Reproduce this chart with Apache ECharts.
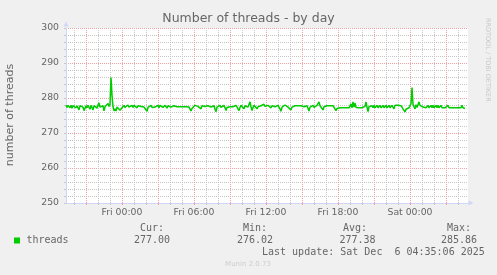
<!DOCTYPE html>
<html><head><meta charset="utf-8">
<script src="https://cdn.jsdelivr.net/npm/echarts@6/dist/echarts.min.js"></script>
<style>html,body{margin:0;padding:0;background:#f0f0f0;}#c{width:497px;height:275px;}</style>
</head><body><div id="c"></div>
<script>
// 5-minute samples starting Thu 19:20, ending Sat 04:35
const threads = [
277.9,277.3,277.9,277.6,277.2,277.9,277.1,277.8,277.4,277.9,277.2,277.8,277.5,276.6,277.8,277.3,277.9,277.4,276.4,276.9,
277.8,277.2,277.9,277.5,276.8,277.9,277.3,276.6,277.8,277.4,277.9,277.1,278.0,278.6,277.4,277.9,277.2,277.8,276.3,277.5,
277.9,277.0,278.4,277.6,278.2,285.86,280.8,277.5,276.3,276.9,276.3,277.4,277.9,277.3,276.5,276.4,277.2,276.8,277.9,277.3,
277.8,277.5,278.0,277.4,277.9,277.6,277.9,277.3,277.9,277.5,277.9,277.2,277.8,277.4,277.9,277.6,277.2,277.9,277.4,277.8,
276.9,276.2,277.3,277.8,277.5,277.9,277.3,276.8,277.8,277.4,277.9,277.5,277.9,277.2,277.9,277.5,277.8,277.3,276.8,277.9,
277.5,277.1,277.8,277.6,277.9,277.4,277.8,277.5,277.8,277.3,277.8,277.5,277.5,277.5,277.5,277.5,277.5,277.5,277.5,277.5,
277.5,277.5,277.5,277.4,276.9,276.3,277.0,276.5,277.2,277.9,277.4,278.0,277.6,277.9,277.3,276.9,277.8,277.4,277.9,277.6,
277.9,277.3,277.8,277.5,277.9,277.4,277.9,277.2,277.8,276.8,276.1,277.4,277.9,277.5,277.9,277.3,277.8,277.5,277.9,277.2,
276.4,277.3,277.8,277.5,277.5,277.5,277.6,277.5,277.8,277.5,277.9,277.4,277.8,276.4,277.3,277.9,277.4,277.8,276.9,277.8,
277.5,277.9,277.4,277.9,278.9,277.5,276.4,277.3,277.9,277.5,277.9,276.9,277.5,277.9,277.4,277.8,277.5,277.9,278.2,277.6,
277.9,277.3,277.9,277.5,277.9,277.2,277.8,277.4,277.9,277.5,277.8,277.3,277.9,277.5,276.9,276.2,277.4,277.9,277.5,278.0,
277.6,277.9,277.4,277.8,277.3,276.6,277.4,277.8,277.5,277.8,277.8,277.8,277.8,277.8,277.9,277.8,278.3,277.8,277.5,277.9,
277.4,277.8,277.5,276.3,277.4,277.9,277.5,277.9,277.3,277.8,277.4,277.9,277.6,278.9,277.8,277.4,277.9,276.6,277.5,277.9,
277.8,277.8,277.8,277.8,277.8,277.8,277.9,277.8,277.9,277.6,276.4,277.0,277.2,277.2,277.2,277.2,277.2,277.2,277.2,277.2,
277.2,277.2,277.2,277.2,277.3,278.3,277.2,278.9,277.4,278.5,277.3,277.8,277.2,277.2,277.5,277.5,277.2,277.2,277.4,277.6,
278.9,277.4,276.1,277.5,277.9,277.3,277.8,277.2,277.9,277.2,277.2,277.9,277.2,277.2,277.9,277.2,277.2,277.9,277.2,277.2,
277.9,277.2,277.2,277.9,277.2,277.2,277.9,277.4,276.9,277.9,277.9,277.9,277.9,277.9,277.9,277.8,277.4,276.9,277.3,276.02,
276.8,277.2,277.2,277.2,277.3,278.4,283.0,278.2,277.5,276.9,278.1,277.3,277.8,278.9,277.9,277.5,277.9,277.4,277.2,277.2,
277.2,277.2,277.9,277.2,277.2,277.9,277.2,277.9,277.2,277.2,277.9,277.2,277.9,277.2,277.2,277.9,277.2,277.2,277.2,277.2,
277.2,277.2,277.9,277.2,277.2,277.2,277.2,277.2,277.2,277.2,277.2,277.2,277.2,277.2,277.2,277.2,277.9,277.2,277.0,277.0
];
const xTickLabels = ['Fri 00:00', 'Fri 06:00', 'Fri 12:00', 'Fri 18:00', 'Sat 00:00'];
const yTicks = [250, 260, 270, 280, 290, 300];
const legendName = 'threads';
const statHeads = ['Cur:', 'Min:', 'Avg:', 'Max:'];
const statValues = ['277.00', '276.02', '277.38', '285.86'];
const title = 'Number of threads - by day';
const yTitle = 'number of threads';
const lastUpdate = 'Last update: Sat Dec  6 04:35:06 2025';
const footer = 'Munin 2.0.73';
const sideText = 'RRDTOOL / TOBI OETIKER';

// axis category slots (5 minutes each), Thu 19:20 .. Sat 04:50
const dayNames = ['Thu', 'Fri', 'Sat'];
const slots = [];
for (let i = 0; i <= 402; i++) {
  const m = 19 * 60 + 20 + 5 * i;
  const d = Math.floor(m / 1440), hh = Math.floor((m % 1440) / 60), mm = m % 60;
  slots.push(dayNames[d] + ' ' + String(hh).padStart(2, '0') + ':' + String(mm).padStart(2, '0'));
}
const isHour = v => v.endsWith(':00');
const is3h = v => isHour(v) && parseInt(v.substr(4, 2), 10) % 3 === 0;

const GRAY = '#c6c6c6', RED = '#f0a0a0', AXIS = '#CFD6F8', FONT = '#666666';
const chart = echarts.init(document.getElementById('c'), null, {renderer: 'canvas'});
const colX = [134, 237, 339.5, 441];
const colH = [140, 243, 343, 447];
const graphics = [
  {type: 'text', x: 248.5, y: 19, style: {text: title, font: '12.5px "DejaVu Sans"', fill: FONT, textAlign: 'center', textVerticalAlign: 'middle'}},
  {type: 'text', x: 10, y: 115, rotation: Math.PI / 2, style: {text: yTitle, font: '11px "DejaVu Sans"', fill: FONT, textAlign: 'center', textVerticalAlign: 'middle'}},
  {type: 'text', x: 487.5, y: 18, rotation: -Math.PI / 2, style: {text: sideText, font: '6.5px "DejaVu Sans"', fill: '#c8c8c8', textAlign: 'left', textVerticalAlign: 'middle'}},
  {type: 'rect', shape: {x: 14, y: 237.5, width: 6, height: 6}, style: {fill: '#00cc00'}},
  {type: 'text', x: 26.5, y: 240.5, style: {text: legendName, font: '10px "DejaVu Sans Mono"', fill: FONT, textAlign: 'left', textVerticalAlign: 'middle'}},
  {type: 'text', x: 262, y: 252, style: {text: lastUpdate, font: '10px "DejaVu Sans Mono"', fill: FONT, textAlign: 'left', textVerticalAlign: 'middle'}},
  {type: 'text', x: 248, y: 264, style: {text: footer, font: '7px "DejaVu Sans"', fill: '#cccccc', textAlign: 'center', textVerticalAlign: 'middle'}}
];
statHeads.forEach((h, i) => graphics.push({type: 'text', x: colH[i], y: 228, style: {text: h, font: '10px "DejaVu Sans Mono"', fill: FONT, textAlign: 'left', textVerticalAlign: 'middle'}}));
statValues.forEach((v, i) => graphics.push({type: 'text', x: colX[i], y: 240.5, style: {text: v, font: '10px "DejaVu Sans Mono"', fill: FONT, textAlign: 'left', textVerticalAlign: 'middle'}}));

chart.setOption({
  animation: false,
  backgroundColor: '#f0f0f0',
  grid: {left: 66, top: 28, width: 402, height: 175, show: true, backgroundColor: '#ffffff', borderWidth: 0, containLabel: false},
  xAxis: [
    {type: 'category', data: slots, boundaryGap: false, z: 1,
     axisLine: {show: true, lineStyle: {color: AXIS, width: 1}, symbol: ['none', 'triangle'], symbolSize: [5, 5], symbolOffset: [0, 3]},
     axisTick: {show: true, length: 2, interval: (i, v) => isHour(v), lineStyle: {color: GRAY}},
     axisLabel: {show: false},
     splitLine: {show: true, interval: (i, v) => isHour(v), lineStyle: {color: [GRAY, RED, GRAY], type: [1, 1], width: 1}}},
    {type: 'category', data: slots, boundaryGap: false, position: 'bottom', z: 2,
     axisLine: {show: false},
     axisTick: {show: true, length: 2, interval: (i, v) => is3h(v), lineStyle: {color: RED}},
     axisLabel: {show: true, interval: (i, v) => xTickLabels.includes(v), margin: 5, color: FONT, fontFamily: 'DejaVu Sans', fontSize: 9.3},
     splitLine: {show: false}}
  ],
  yAxis: [
    {type: 'value', min: 250, max: 300, interval: 2,
     axisLine: {show: true, lineStyle: {color: AXIS, width: 1}, symbol: ['none', 'triangle'], symbolSize: [5, 5], symbolOffset: [0, 4]},
     axisTick: {show: true, length: 2, lineStyle: {color: GRAY}},
     axisLabel: {show: true, margin: 7, color: FONT, fontFamily: 'DejaVu Sans', fontSize: 9.3,
                 formatter: v => yTicks.includes(v) ? String(v) : ''},
     splitLine: {show: true, lineStyle: {color: [RED, GRAY, GRAY, GRAY, GRAY], type: [1, 1], width: 1}}}
  ],
  series: [{
    name: legendName, type: 'line', data: threads, xAxisIndex: 0, yAxisIndex: 0,
    showSymbol: false, symbol: 'none', lineStyle: {color: '#00cc00', width: 1.5}, z: 5
  }],
  graphic: graphics
});
</script></body></html>
